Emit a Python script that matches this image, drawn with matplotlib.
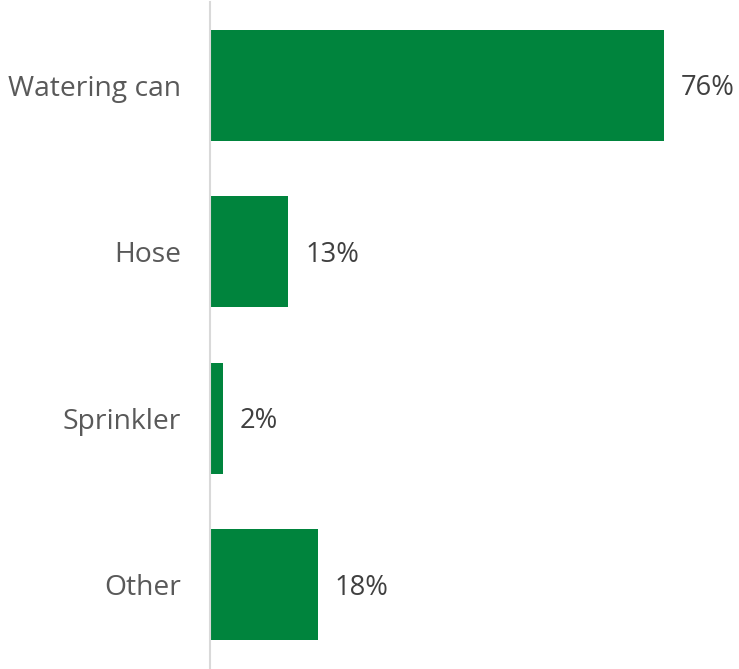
import matplotlib.pyplot as plt

categories = ["Watering can", "Hose", "Sprinkler", "Other"]
values = [76, 13, 2, 18]
labels = ["76%", "13%", "2%", "18%"]

plt.rcParams['font.family'] = ['Open Sans', 'DejaVu Sans']

fig = plt.figure(figsize=(7.39, 6.69), dpi=100)
W, H = 739, 669
ax = fig.add_axes([210 / W, 1 - 668 / H, 1 - 210 / W, 666 / H])

pos = list(range(len(categories)))
ax.barh(pos, values, height=0.667, color="#00843d", left=0.15)
ax.set_ylim(len(categories) - 0.5, -0.5)
ax.set_xlim(0, 88.75)

# value labels to the right of each bar
for p, v, lab in zip(pos, values, labels):
    ax.annotate(lab, (v + 0.15, p), xytext=(12.0, -2.0), textcoords="offset points",
                va="center", ha="left", fontsize=19.7, color="#404040")

ax.set_yticks(pos)
ax.set_yticklabels(categories, fontsize=20.3, color="#595959")
ax.tick_params(axis="y", length=0, pad=21)
ax.set_xticks([])
for s in ["top", "right", "bottom"]:
    ax.spines[s].set_visible(False)
ax.spines["left"].set_color("#d9d9d9")
ax.spines["left"].set_linewidth(1.5)

fig.savefig("out.png", dpi=100)
